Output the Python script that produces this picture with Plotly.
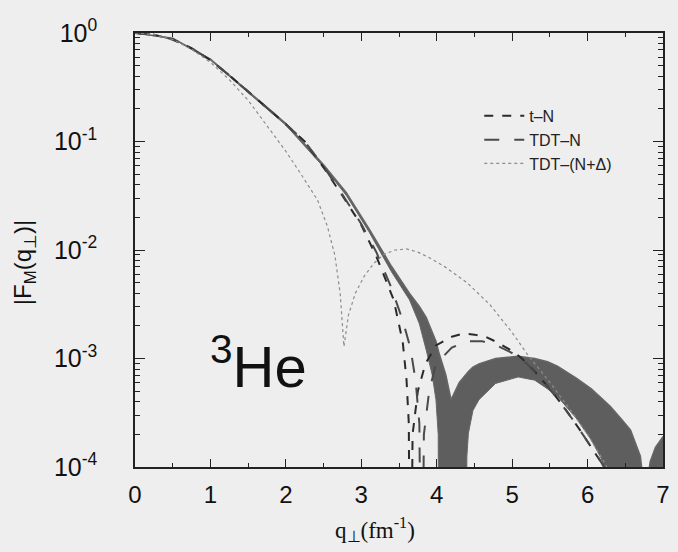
import plotly.graph_objects as go

# Magnetic form factor of 3He versus perpendicular momentum transfer q (fm^-1).
# Values are log10 |F_M|; -6 marks a zero of the form factor (below the axis).

q_tn = [0, 0.25, 0.5, 0.75, 1.0, 1.25, 1.5, 1.75, 2.0, 2.25, 2.5, 2.75, 3.0, 3.2,
        3.43, 3.55, 3.6, 3.63, 3.65, 3.68, 3.75, 3.85, 3.99, 4.2, 4.35, 4.5, 4.65,
        4.8, 5.0, 5.13, 5.3, 5.5, 5.7, 5.9, 6.05, 6.22, 6.4]
lf_tn = [0, -0.015, -0.06, -0.14, -0.25, -0.39, -0.54, -0.69, -0.84, -1.0, -1.24,
         -1.5, -1.77, -2.06, -2.46, -2.85, -3.2, -3.6, -6, -3.7, -3.3, -3.05, -2.88,
         -2.8, -2.77, -2.78, -2.8, -2.85, -2.93, -3.0, -3.12, -3.28, -3.46, -3.66,
         -3.82, -4.0, -4.25]

q_tdtn = [0, 0.25, 0.5, 0.75, 1.0, 1.25, 1.5, 1.75, 2.0, 2.25, 2.5, 2.75, 3.0, 3.2,
          3.4, 3.55, 3.65, 3.72, 3.77, 3.8, 3.83, 3.9, 3.99, 4.2, 4.4, 4.6, 4.8,
          5.0, 5.2, 5.4, 5.6, 5.8, 6.0, 6.15, 6.3]
lf_tdtn = [0, -0.015, -0.06, -0.14, -0.25, -0.39, -0.54, -0.69, -0.84, -1.0, -1.23,
           -1.49, -1.76, -2.02, -2.35, -2.65, -2.9, -3.2, -3.6, -6, -3.7, -3.3, -3.05,
           -2.9, -2.84, -2.84, -2.88, -2.95, -3.05, -3.2, -3.37, -3.56, -3.76, -3.92,
           -4.1]

q_tdtd = [0, 0.25, 0.5, 0.75, 1.0, 1.25, 1.5, 1.75, 2.0, 2.2, 2.42, 2.55, 2.65, 2.72,
          2.77, 2.83, 2.92, 3.04, 3.17, 3.3, 3.45, 3.6, 3.75, 3.9, 4.12, 4.4, 4.7,
          5.0, 5.2, 5.5, 5.8, 6.0, 6.2, 6.35]
lf_tdtd = [0, -0.015, -0.06, -0.15, -0.27, -0.43, -0.62, -0.85, -1.09, -1.3, -1.54,
           -1.78, -2.05, -2.4, -2.89, -2.6, -2.4, -2.24, -2.12, -2.04, -2.0, -1.99,
           -2.02, -2.07, -2.16, -2.3, -2.5, -2.76, -2.96, -3.22, -3.5, -3.7, -3.93,
           -4.12]

# Theoretical uncertainty band: lower and upper envelopes on a shared q grid
q_band = [0, 0.5, 1.0, 1.5, 2.0, 2.5, 2.8, 3.1, 3.4, 3.64, 3.77, 3.86, 3.94, 3.99,
          4.02, 4.03, 4.12, 4.19, 4.3, 4.38, 4.4, 4.42, 4.48, 4.56, 4.78, 5.08, 5.3,
          5.47, 5.6, 5.85, 6.05, 6.18, 6.26, 6.3, 6.45, 6.57, 6.7, 6.75, 6.78, 6.83,
          6.9, 7.0]
lf_band_lo = [0, -0.052, -0.25, -0.55, -0.85, -1.235, -1.495, -1.83, -2.2, -2.46,
              -2.68, -2.92, -3.15, -3.38, -3.7, -6, -6, -6, -6, -6, -3.9, -3.69,
              -3.48, -3.38, -3.23, -3.17, -3.2, -3.28, -3.35, -3.55, -3.75, -3.92,
              -4.1, -6, -6, -6, -6, -6, -6, -6, -6, -6]
lf_band_hi = [0, -0.048, -0.24, -0.54, -0.835, -1.215, -1.47, -1.8, -2.15, -2.4,
              -2.52, -2.62, -2.75, -2.84, -2.92, -2.95, -3.15, -3.38, -3.22, -3.15,
              -3.13, -3.12, -3.08, -3.05, -3.0, -2.98, -3.0, -3.03, -3.07, -3.18,
              -3.28, -3.36, -3.41, -3.44, -3.56, -3.66, -3.9, -4.2, -4.2, -3.95,
              -3.82, -3.72]

y_tick_vals = [1, 1e-1, 1e-2, 1e-3, 1e-4]
y_tick_text = ["10<sup>0</sup>", "10<sup>-1</sup>", "10<sup>-2</sup>",
               "10<sup>-3</sup>", "10<sup>-4</sup>"]
x_tick_vals = [0, 1, 2, 3, 4, 5, 6, 7]


def mag(logs):
    return [10.0 ** v for v in logs]


fig = go.Figure()

fig.add_trace(go.Scatter(x=q_band, y=mag(lf_band_lo), mode="lines",
                         line=dict(color="#666666", width=1), showlegend=False,
                         hoverinfo="skip"))
fig.add_trace(go.Scatter(x=q_band, y=mag(lf_band_hi), mode="lines",
                         line=dict(color="#666666", width=1.5), fill="tonexty",
                         fillcolor="#5e5e5e", showlegend=False, hoverinfo="skip"))

fig.add_trace(go.Scatter(x=q_tn, y=mag(lf_tn), mode="lines", name="t\u2013N",
                         line=dict(color="#2a2a2a", width=2, dash="dash")))
fig.add_trace(go.Scatter(x=q_tdtn, y=mag(lf_tdtn), mode="lines", name="TDT\u2013N",
                         line=dict(color="#4a4a4a", width=2, dash="longdash")))
fig.add_trace(go.Scatter(x=q_tdtd, y=mag(lf_tdtd), mode="lines",
                         name="TDT\u2013(N+\u0394)",
                         line=dict(color="#8c8c8c", width=1.2, dash="dot")))

sans = "Liberation Sans, Arial, sans-serif"

fig.update_xaxes(range=[0, 7], tickvals=x_tick_vals, ticks="inside", ticklen=8,
                 tickwidth=1.2, tickcolor="#222222", showline=True, linecolor="#222222",
                 linewidth=1.5, mirror="ticks", showgrid=False, zeroline=False,
                 tickfont=dict(family=sans, size=24, color="#111111"),
                 ticklabelstandoff=5,
                 minor=dict(ticks="inside", ticklen=4, dtick=0.5, tickcolor="#222222",
                            showgrid=False))
fig.update_yaxes(type="log", range=[-4, 0], tickvals=y_tick_vals, ticktext=y_tick_text,
                 ticks="inside", ticklen=10, tickwidth=1.2, tickcolor="#222222",
                 showline=True, linecolor="#222222", linewidth=1.5, mirror="ticks",
                 showgrid=False, zeroline=False,
                 tickfont=dict(family=sans, size=25, color="#111111"),
                 ticklabelstandoff=31,
                 minor=dict(ticks="inside", ticklen=5, dtick="D1", tickcolor="#222222",
                            showgrid=False))

fig.update_layout(
    width=678, height=552,
    margin=dict(l=135, r=8, t=33, b=85),
    paper_bgcolor="#eeeeee", plot_bgcolor="#eeeeee",
    font=dict(family=sans, color="#111111"),
    legend=dict(x=0.652, y=0.848, xanchor="left", yanchor="top",
                bgcolor="rgba(0,0,0,0)", font=dict(size=16, color="#222222"),
                itemwidth=40, tracegroupgap=0, traceorder="normal"),
    annotations=[
        dict(text="<sup>3</sup>He", xref="paper", yref="paper", x=0.138, y=0.24,
             xanchor="left", yanchor="middle", showarrow=False,
             font=dict(family=sans, size=58, color="#111111")),
        dict(text="q<sub>\u22a5</sub>(fm<sup>-1</sup>)", xref="paper", yref="paper",
             x=0.454, y=-0.145, xanchor="center", yanchor="middle", showarrow=False,
             font=dict(family="Liberation Serif, Times New Roman, serif", size=23,
                       color="#111111")),
        dict(text="|F<sub>M</sub>(q<sub>\u22a5</sub>)|", xref="paper", yref="paper",
             x=-0.21, y=0.47, xanchor="center", yanchor="middle", showarrow=False,
             textangle=-90,
             font=dict(family=sans, size=24, color="#111111")),
    ],
)

fig.write_html("out.html")
